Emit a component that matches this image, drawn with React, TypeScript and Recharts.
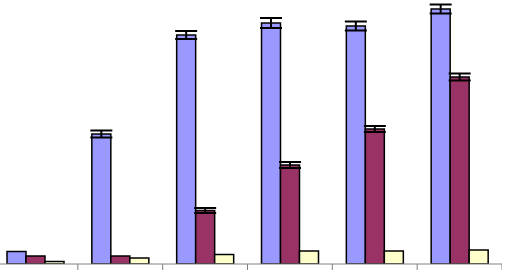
import { Bar, BarChart, ErrorBar, XAxis, YAxis } from "recharts";

const categories = ["1", "2", "3", "4", "5", "6"];
const seriesA = [12.5, 130, 229, 241, 238, 255];
const seriesAErr = [0, 3.5, 4, 5, 4.5, 4.5];
const seriesB = [8, 8, 53.5, 99, 135, 187];
const seriesBErr = [0, 0, 2.5, 3, 3, 3.5];
const seriesC = [2.5, 6, 9.5, 13, 13, 14];
const boundaryTicks = [0, 1, 2, 3, 4, 5, 6];

// numeric x so the tick marks fall between the groups, like the original
const data = categories.map((name, i) => ({
  name,
  x: i + 0.5,
  a: seriesA[i],
  aErr: seriesAErr[i],
  b: seriesB[i],
  bErr: seriesBErr[i],
  c: seriesC[i]
}));

export default function App() {
  return (
    <div style={{ position: "absolute", left: -7.5, top: -0.5 }}>
      <BarChart
        width={509}
        height={275}
        data={data}
        margin={{ top: 0, right: 0, left: 0, bottom: 0 }}
        barGap={0}
        barSize={19}
      >
        <XAxis
          dataKey="x"
          type="number"
          domain={[0, 6]}
          ticks={boundaryTicks}
          allowDataOverflow
          height={11}
          tickSize={6}
          tickFormatter={() => ""}
          axisLine={{ stroke: "#808080" }}
          tickLine={{ stroke: "#808080" }}
        />
        <YAxis hide domain={[0, 264]} allowDataOverflow />
        <Bar dataKey="a" fill="#9999ff" stroke="#000000" strokeWidth={1.5} isAnimationActive={false}>
          <ErrorBar dataKey="aErr" width={11} stroke="#000000" strokeWidth={2} />
        </Bar>
        <Bar dataKey="b" fill="#993366" stroke="#000000" strokeWidth={1.5} isAnimationActive={false}>
          <ErrorBar dataKey="bErr" width={11} stroke="#000000" strokeWidth={2} />
        </Bar>
        <Bar dataKey="c" fill="#ffffcc" stroke="#000000" strokeWidth={1.5} isAnimationActive={false} />
      </BarChart>
    </div>
  );
}
